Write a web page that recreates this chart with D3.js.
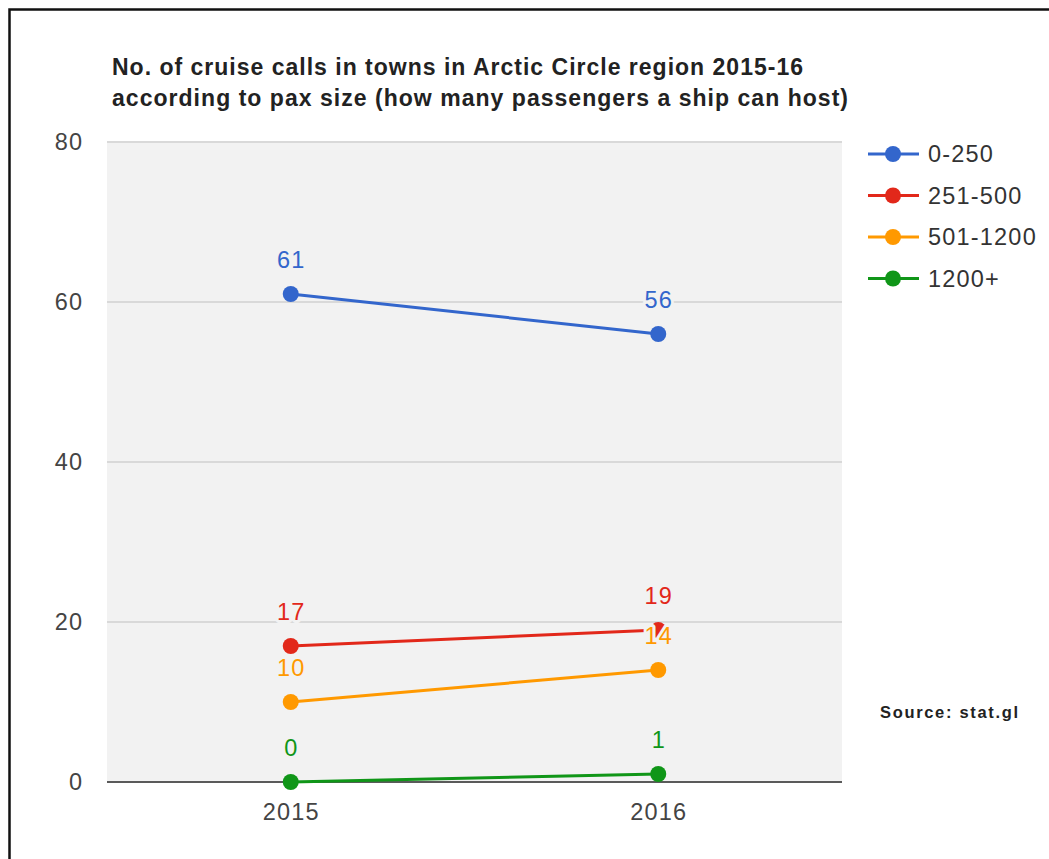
<!DOCTYPE html>
<html>
<head>
<meta charset="utf-8">
<script src="https://cdn.jsdelivr.net/npm/d3@7"></script>
<style>
  html, body { margin: 0; padding: 0; background: #fff; }
  svg { display: block; }
  text { font-family: "Liberation Sans", Arial, sans-serif; }
</style>
</head>
<body>
<svg id="chart" width="1049" height="859"></svg>
<script>
const titleLines = [
  "No. of cruise calls in towns in Arctic Circle region 2015-16",
  "according to pax size (how many passengers a ship can host)"
];
const years = ["2015", "2016"];
const seriesNames = ["0-250", "251-500", "501-1200", "1200+"];
const seriesColors = ["#3366cc", "#e2281a", "#ff9900", "#109618"];
const values0to250 = [61, 56];
const values251to500 = [17, 19];
const values501to1200 = [10, 14];
const values1200plus = [0, 1];
const yTicks = [0, 20, 40, 60, 80];
const sourceText = "Source: stat.gl";

const seriesValues = [values0to250, values251to500, values501to1200, values1200plus];

const FS = 23.5, LS = 1.2;

const svg = d3.select("#chart");

// outer border (top + left visible)
svg.append("path")
  .attr("d", "M9.5,870 L9.5,9.5 L1060,9.5")
  .attr("fill", "none").attr("stroke", "#111").attr("stroke-width", 2.5);

const plot = { left: 107, right: 842, top: 142, bottom: 782 };

const x = d3.scaleBand().domain(years).range([plot.left, plot.right]).padding(0);
const y = d3.scaleLinear().domain([0, 80]).range([plot.bottom, plot.top]);
const cx = d => x(d) + x.bandwidth() / 2;

// plot background
svg.append("rect")
  .attr("x", plot.left).attr("y", plot.top)
  .attr("width", plot.right - plot.left).attr("height", plot.bottom - plot.top)
  .attr("fill", "#f2f2f2");

// gridlines
svg.append("g").selectAll("line").data(yTicks.filter(t => t !== 0)).join("line")
  .attr("x1", plot.left).attr("x2", plot.right)
  .attr("y1", d => y(d)).attr("y2", d => y(d))
  .attr("stroke", "#d9d9d9").attr("stroke-width", 2);

// y axis labels
const yAxis = d3.axisLeft(y).tickValues(yTicks).tickSize(0).tickPadding(0);
const gy = svg.append("g").attr("transform", `translate(${82 + LS},0)`).call(yAxis);
gy.select(".domain").remove();
gy.selectAll("text").attr("font-size", FS).attr("fill", "#444")
  .attr("letter-spacing", LS)
  .attr("font-family", "Liberation Sans, Arial, sans-serif");

// x axis labels
const xAxis = d3.axisBottom(x).tickSize(0).tickPadding(0);
const gx = svg.append("g").attr("transform", `translate(${LS / 2},0)`).call(xAxis);
gx.select(".domain").remove();
gx.selectAll("text").attr("font-size", FS).attr("fill", "#444")
  .attr("letter-spacing", LS)
  .attr("y", 820).attr("dy", null)
  .attr("font-family", "Liberation Sans, Arial, sans-serif");

// baseline
svg.append("line")
  .attr("x1", plot.left).attr("x2", plot.right)
  .attr("y1", y(0)).attr("y2", y(0))
  .attr("stroke", "#5a5a5a").attr("stroke-width", 2);

// series
const line = d3.line().x((d, i) => cx(years[i])).y(d => y(d));
seriesValues.forEach((vals, s) => {
  const g = svg.append("g");
  g.append("path").datum(vals).attr("d", line)
    .attr("fill", "none").attr("stroke", seriesColors[s]).attr("stroke-width", 3);
  g.selectAll("circle").data(vals).join("circle")
    .attr("cx", (d, i) => cx(years[i])).attr("cy", d => y(d))
    .attr("r", 8).attr("fill", seriesColors[s]);
});

// data labels
seriesValues.forEach((vals, s) => {
  svg.append("g").selectAll("text").data(vals).join("text")
    .attr("x", (d, i) => cx(years[i]) + LS / 2).attr("y", d => y(d) - 26)
    .attr("text-anchor", "middle").attr("font-size", FS)
    .attr("letter-spacing", LS)
    .attr("fill", seriesColors[s])
    .attr("stroke", "#f2f2f2").attr("stroke-width", 6)
    .attr("paint-order", "stroke").attr("stroke-linejoin", "round")
    .text(d => d);
});

// title
const titleWidths = [691, 736];
svg.append("g").selectAll("text").data(titleLines).join("text")
  .attr("x", 112).attr("y", (d, i) => 75 + i * 31)
  .attr("font-size", 23).attr("font-weight", "bold").attr("fill", "#222")
  .attr("textLength", (d, i) => titleWidths[i]).attr("lengthAdjust", "spacing")
  .text(d => d);

// legend
const legend = svg.append("g");
seriesNames.forEach((name, i) => {
  const ly = 154 + i * 41.5;
  legend.append("line").attr("x1", 868).attr("x2", 919).attr("y1", ly).attr("y2", ly)
    .attr("stroke", seriesColors[i]).attr("stroke-width", 3);
  legend.append("circle").attr("cx", 893).attr("cy", ly).attr("r", 8).attr("fill", seriesColors[i]);
  legend.append("text").attr("x", 928).attr("y", ly).attr("dy", "0.36em")
    .attr("font-size", FS).attr("letter-spacing", LS).attr("fill", "#333").text(name);
});

// source
svg.append("text").attr("x", 880).attr("y", 718)
  .attr("font-size", 16.5).attr("font-weight", "bold").attr("fill", "#222")
  .attr("textLength", 138).attr("lengthAdjust", "spacing")
  .text(sourceText);
</script>
</body>
</html>
